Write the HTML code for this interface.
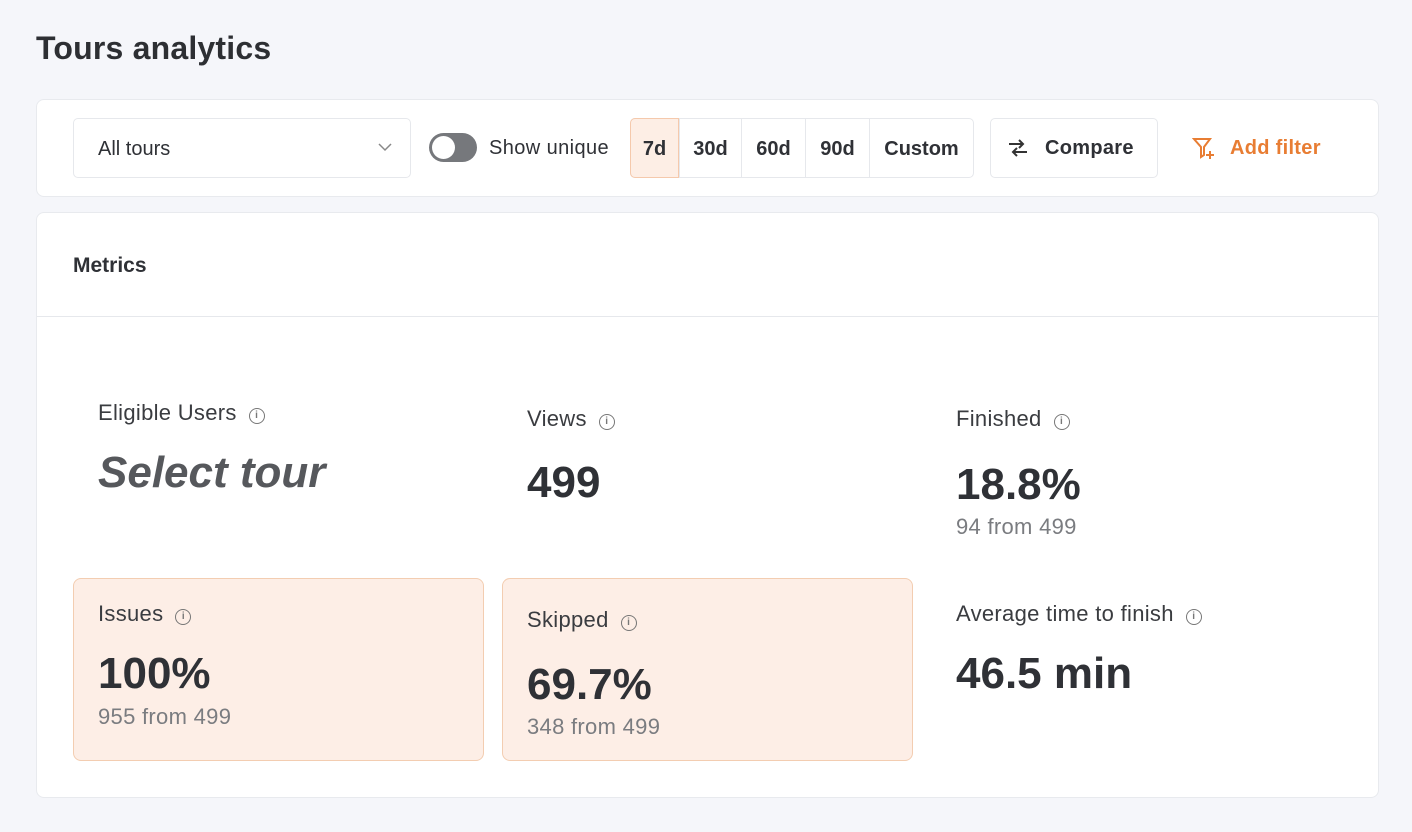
<!DOCTYPE html>
<html><head><meta charset="utf-8"><style>
*{margin:0;padding:0;box-sizing:border-box}
body{width:1412px;height:832px;background:#f5f6fa;font-family:"Liberation Sans",sans-serif;color:#2f3136;position:relative;overflow:hidden}
.a{position:absolute;white-space:nowrap}
.card{position:absolute;background:#fff;border:1px solid #e8eaee;border-radius:8px}
.box{position:absolute;border:1px solid #e6e8ec;border-radius:5px;background:#fff}
.seg{position:absolute;top:118px;height:60px;display:flex;align-items:center;justify-content:center;font-weight:bold;font-size:20px;color:#2f3136;padding-top:2px}
.lbl{font-size:22px;color:#3a3c40;letter-spacing:0.3px}
.big{font-size:44px;font-weight:bold;color:#2f3136}
.sub{font-size:22px;color:#7a7c80;letter-spacing:0.3px}
.i{display:inline-block;width:16px;height:16px;border:1.5px solid #777;border-radius:50%;font-size:10px;text-align:center;line-height:13px;color:#777;margin-left:12px;vertical-align:2px;font-weight:bold}
.hl{position:absolute;background:#fdeee6;border:1px solid #f3cdb1;border-radius:8px}
</style></head><body>
<div class="a" style="left:36px;top:30px;font-size:32px;color:#2d2f33;font-weight:bold;letter-spacing:0.2px">Tours analytics</div>
<div class="card" style="left:36px;top:99px;width:1343px;height:98px"></div>
<div class="box" style="left:73px;top:118px;width:338px;height:60px"></div>
<div class="a" style="left:98px;top:138px;font-size:20px">All tours</div>
<svg class="a" style="left:378px;top:142px" width="14" height="10"><path d="M1 2l6 6 6-6" stroke="#888" fill="none" stroke-width="1.5"/></svg>
<div class="a" style="left:429px;top:133px;width:48px;height:29px;border-radius:15px;background:#76787c"></div>
<div class="a" style="left:432px;top:136px;width:23px;height:23px;border-radius:50%;background:#fff"></div>
<div class="a" style="left:489px;top:137px;font-size:20px;letter-spacing:0.4px">Show unique</div>
<div class="box" style="left:630px;top:118px;width:344px;height:60px"></div>
<div class="seg" style="left:630px;width:49px;background:#fdeee5;border:1px solid #f5c9ac;border-radius:5px 0 0 5px">7d</div>
<div class="seg" style="left:679px;width:62px;border-left:1px solid #e6e8ec">30d</div>
<div class="seg" style="left:741px;width:64px;border-left:1px solid #e6e8ec">60d</div>
<div class="seg" style="left:805px;width:64px;border-left:1px solid #e6e8ec">90d</div>
<div class="seg" style="left:869px;width:104px;border-left:1px solid #e6e8ec">Custom</div>
<div class="box" style="left:990px;top:118px;width:168px;height:60px"></div>
<svg class="a" style="left:1007px;top:138px" width="22" height="20"><path d="M2 6h14M12 2l4 4-4 4M20 14H6M10 10l-4 4 4 4" stroke="#333" fill="none" stroke-width="2"/></svg>
<div class="a" style="left:1045px;top:137px;font-size:20px;font-weight:bold;letter-spacing:0.3px">Compare</div>
<svg class="a" style="left:1192px;top:137px" width="24" height="24"><path d="M2 2h16l-6 8v8l-3 2v-10z" stroke="#e87d33" fill="none" stroke-width="2"/><path d="M18 14v8M14 18h8" stroke="#e87d33" stroke-width="2"/></svg>
<div class="a" style="left:1230px;top:137px;font-size:20px;font-weight:bold;color:#e87d33;letter-spacing:0.3px">Add filter</div>

<div class="card" style="left:36px;top:212px;width:1343px;height:586px"></div>
<div class="a" style="left:73px;top:254px;font-size:21px;font-weight:bold">Metrics</div>
<div class="a" style="left:37px;top:316px;width:1341px;height:1px;background:#e6e8ec"></div>

<div class="a lbl" style="left:98px;top:400px">Eligible Users<span class="i">i</span></div>
<div class="a" style="left:98px;top:448px;font-size:44px;font-weight:bold;font-style:italic;color:#56585c">Select tour</div>
<div class="a lbl" style="left:527px;top:406px">Views<span class="i">i</span></div>
<div class="a big" style="left:527px;top:458px">499</div>
<div class="a lbl" style="left:956px;top:406px">Finished<span class="i">i</span></div>
<div class="a big" style="left:956px;top:460px">18.8%</div>
<div class="a sub" style="left:956px;top:514px">94 from 499</div>

<div class="hl" style="left:73px;top:578px;width:411px;height:183px"></div>
<div class="a lbl" style="left:98px;top:601px">Issues<span class="i">i</span></div>
<div class="a big" style="left:98px;top:649px">100%</div>
<div class="a sub" style="left:98px;top:704px">955 from 499</div>
<div class="hl" style="left:502px;top:578px;width:411px;height:183px"></div>
<div class="a lbl" style="left:527px;top:607px">Skipped<span class="i">i</span></div>
<div class="a big" style="left:527px;top:660px">69.7%</div>
<div class="a sub" style="left:527px;top:714px">348 from 499</div>
<div class="a lbl" style="left:956px;top:601px">Average time to finish<span class="i">i</span></div>
<div class="a big" style="left:956px;top:649px">46.5 min</div>
</body></html>
